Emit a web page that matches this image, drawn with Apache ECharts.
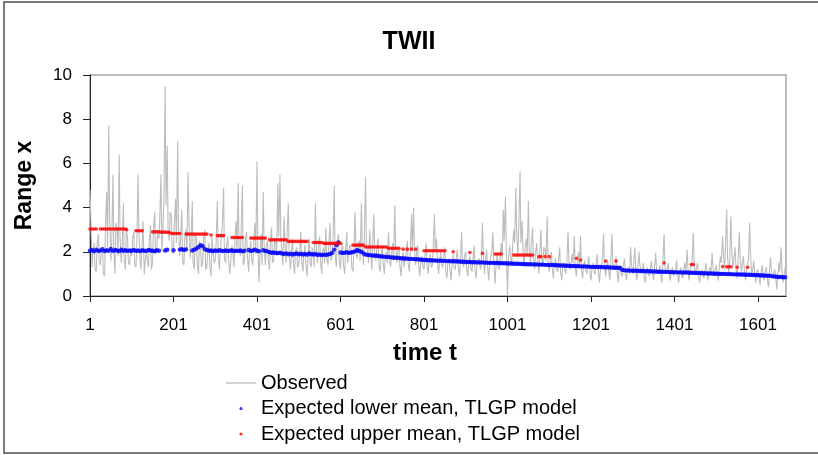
<!DOCTYPE html>
<html><head><meta charset="utf-8">
<script src="https://cdn.jsdelivr.net/npm/echarts@6/dist/echarts.min.js"></script>
<style>html,body{margin:0;padding:0;background:#fff}#c{width:818px;height:455px}</style>
</head><body><div id="c"></div>
<script>
const chartTitle = 'TWII';
const xAxisName = 'time t';
const yAxisName = 'Range x';
const xTickValues = [1, 201, 401, 601, 801, 1001, 1201, 1401, 1601];
const xTickLabels = ['1', '201', '401', '601', '801', '1001', '1201', '1401', '1601'];
const seriesNames = ['Observed', 'Expected lower mean, TLGP model', 'Expected upper mean, TLGP model'];
// observed values read at t = 1, 6, 11, ... (observedA) and t = 3, 8, 13, ... (observedB)
// lower mean read at t = 1, 6, 11, ...
const startA = 1, startB = 3, sampleStep = 5;
const observedA = [
4.8,1.3,2.4,1.1,2.8,1.4,2.2,0.9,4.7,7.7,1.6,5.5,1.0,3.0,6.4,1.5,4.2,1.2,2.6,1.4,
1.8,2.9,1.3,5.5,1.6,2.4,1.0,2.0,1.3,3.2,1.5,3.8,2.2,2.6,5.5,3.2,9.5,6.8,2.5,3.6,
1.9,4.4,7.0,1.8,3.9,1.4,3.0,5.6,1.7,4.3,1.2,2.6,1.0,2.2,1.5,3.0,1.3,2.4,0.9,2.0,
1.6,4.3,1.2,2.8,4.9,1.5,2.7,1.0,2.3,1.3,3.4,5.1,1.8,5.0,1.6,2.9,1.1,2.5,1.4,3.3,
6.1,0.6,2.8,4.7,1.4,2.5,1.2,3.1,1.6,2.4,5.1,5.5,2.0,3.6,1.5,4.2,1.2,2.6,1.0,2.2,
1.4,2.9,1.1,2.3,0.9,2.6,1.3,2.0,4.2,1.5,2.7,1.0,2.2,3.1,1.4,3.3,1.8,5.0,1.3,2.8,
1.2,2.4,1.0,2.9,1.5,2.2,1.1,3.8,1.7,2.5,4.2,1.4,5.4,2.0,3.0,1.2,3.7,1.6,2.6,1.1,
2.3,1.0,2.0,2.9,1.3,2.4,4.1,1.5,2.2,0.9,2.0,1.3,2.5,1.1,3.7,4.0,1.4,2.3,0.9,1.8,
1.2,2.4,1.0,1.9,1.4,3.7,2.6,1.0,2.0,1.3,2.2,0.8,1.7,0.7,1.9,1.2,2.1,0.9,2.9,1.3,
2.0,0.9,1.8,1.1,2.3,0.8,1.6,1.2,3.3,1.0,2.1,0.7,1.8,2.9,0.55,1.9,1.2,2.4,3.9,4.5,
0.05,2.3,1.4,3.0,4.9,1.8,5.65,3.4,1.3,2.6,4.3,1.5,3.1,1.2,2.4,1.0,3.0,1.4,2.1,3.6,
1.1,2.0,0.8,1.7,1.1,2.2,0.7,1.5,1.0,2.9,1.2,1.9,2.7,0.9,2.0,2.7,0.8,1.6,1.0,1.8,
0.7,1.5,1.0,1.9,0.6,1.4,2.8,0.9,1.6,0.7,2.8,1.2,1.8,0.6,1.4,0.9,1.7,0.7,1.3,2.2,
1.0,2.2,0.7,2.0,1.1,1.5,0.6,1.3,0.9,1.6,0.7,1.95,1.0,1.4,0.6,2.8,1.0,1.5,0.7,1.3,
0.9,1.6,0.6,1.3,0.8,1.5,2.1,0.7,1.4,2.85,1.0,1.5,0.6,1.2,0.8,1.5,0.7,1.3,1.95,0.9,
1.4,0.7,1.8,2.7,1.2,3.9,1.0,3.6,1.3,2.2,0.8,2.9,1.1,1.8,0.7,1.5,3.3,0.9,1.6,0.6,
1.2,0.5,1.4,0.7,1.3,0.4,1.75,0.8,1.2,0.3,1.5,2.2,0.6,1.3
];
const observedB = [
3.5,2.0,1.2,2.3,1.6,2.0,1.0,3.1,2.2,3.6,2.4,2.1,3.3,1.8,2.6,2.2,1.6,3.0,1.5,2.1,
2.6,1.4,2.2,3.0,1.2,3.4,1.5,1.6,2.5,1.2,3.0,1.9,2.8,3.4,2.0,4.3,4.1,3.0,3.8,2.0,
3.2,2.4,3.0,2.6,1.5,2.6,2.0,3.4,2.4,1.5,2.8,1.4,2.5,1.3,2.6,1.2,2.0,1.3,2.7,1.5,
2.4,1.8,2.0,3.2,1.7,2.2,1.6,1.5,1.9,2.6,2.0,2.2,2.9,1.4,2.5,1.8,2.0,1.7,2.3,1.9,
2.2,1.9,1.4,2.3,2.2,1.6,2.4,1.5,2.6,1.8,2.7,2.6,1.4,2.3,2.8,1.9,1.8,1.5,2.0,1.3,
2.0,1.6,1.9,1.4,1.8,1.5,2.2,1.3,2.1,2.3,1.6,2.0,1.5,1.7,2.4,1.6,2.5,1.9,2.4,1.6,
2.0,1.4,2.0,1.5,2.3,1.3,2.1,1.9,2.4,1.6,2.2,2.6,2.3,1.5,2.1,2.4,1.8,2.2,1.4,1.8,
1.5,1.7,1.5,1.8,1.9,1.6,2.3,2.0,1.4,1.6,1.3,1.9,1.5,1.9,2.0,2.1,1.9,1.4,1.5,1.4,
1.8,1.4,1.6,1.3,2.2,2.0,1.6,1.5,1.4,1.8,1.1,1.5,1.2,1.4,1.3,1.7,1.3,1.6,1.5,1.8,
1.2,1.5,1.3,1.6,1.2,1.4,1.7,1.5,1.9,1.6,1.4,1.3,1.9,1.6,1.2,1.4,1.7,1.6,2.5,2.1,
1.6,1.9,2.2,2.4,2.8,3.2,2.4,2.0,2.2,1.8,2.1,2.3,1.8,1.9,1.6,1.9,1.7,2.2,1.6,1.5,
1.5,1.3,1.4,1.2,1.6,1.1,1.3,1.2,1.5,1.6,1.4,1.5,1.3,1.4,1.3,1.2,1.4,1.2,1.4,1.1,
1.2,1.1,1.4,1.2,1.1,1.6,1.5,1.3,1.2,1.4,1.5,1.4,1.2,1.1,1.0,1.3,1.1,1.2,1.0,1.4,
1.4,1.2,1.3,1.4,1.0,0.9,1.1,1.0,1.2,1.1,1.3,1.2,1.1,0.9,1.5,1.3,1.2,1.0,1.1,0.9,
1.1,1.0,1.0,0.9,1.2,1.1,1.3,1.1,1.6,1.5,1.2,1.0,0.9,1.1,1.0,1.2,1.1,1.0,1.3,1.2,
1.0,1.3,1.5,1.9,2.2,1.8,1.6,2.0,1.7,1.3,1.5,1.8,1.4,1.2,1.1,1.6,1.9,1.2,1.0,1.1,
0.9,1.0,0.9,1.1,0.8,1.0,1.2,1.0,0.9,0.8,1.1,1.3,0.9
];
const lowerMean = [
2.05,2.08,2.02,2.10,2.04,2.06,2.12,2.03,2.07,2.05,2.13,2.04,2.08,2.06,2.03,2.09,2.05,2.07,2.04,2.06,
2.05,2.08,2.04,2.06,2.03,2.07,2.05,2.04,2.08,2.06,2.05,2.03,2.07,2.05,null,null,2.06,2.09,null,null,
2.07,null,null,2.10,2.12,2.08,2.11,null,null,2.06,2.10,2.15,2.22,2.30,2.25,2.12,2.08,2.05,2.06,2.03,
2.06,2.04,2.07,2.05,2.03,2.06,2.04,2.05,2.07,2.03,2.05,2.04,2.06,2.02,2.05,null,2.08,2.04,2.06,2.10,
2.05,2.03,null,2.07,2.04,2.02,1.98,1.96,1.97,1.95,1.94,1.96,1.92,1.90,1.93,1.89,1.91,1.88,1.90,1.92,
1.89,1.91,1.88,1.90,1.87,1.92,1.89,1.88,1.90,1.86,1.88,1.85,1.87,1.86,1.88,1.90,1.95,2.10,2.30,2.42,
1.97,1.95,1.96,1.98,1.95,1.97,1.99,2.02,2.08,2.03,2.00,1.92,1.88,1.86,1.85,1.84,1.82,1.83,1.81,1.80,
1.79,1.78,1.76,1.77,1.75,1.74,1.73,1.73,1.72,1.71,1.70,1.70,1.69,1.68,1.68,1.67,1.66,1.66,1.65,1.64,
1.63,1.63,1.62,1.62,1.61,1.61,1.60,1.60,1.60,1.59,1.59,1.58,1.58,1.57,1.57,1.57,1.56,1.56,1.55,1.55,
1.54,1.54,1.54,1.53,1.53,1.53,1.52,1.52,1.52,1.51,1.51,1.50,1.50,1.50,1.49,1.49,1.49,1.48,1.48,1.48,
1.47,1.47,1.47,1.46,1.46,1.46,1.45,1.45,1.45,1.44,1.44,1.44,1.43,1.43,1.43,1.42,1.42,1.42,1.41,1.41,
1.40,1.40,1.40,1.39,1.39,1.38,1.38,1.38,1.37,1.37,1.36,1.36,1.36,1.35,1.35,1.34,1.34,1.34,1.33,1.33,
1.32,1.32,1.32,1.31,1.31,1.31,1.30,1.30,1.30,1.29,1.29,1.28,1.28,1.28,1.27,1.18,1.16,1.16,1.15,1.15,
1.14,1.14,1.14,1.13,1.13,1.13,1.12,1.12,1.12,1.11,1.11,1.11,1.10,1.10,1.10,1.09,1.09,1.09,1.08,1.08,
1.08,1.07,1.07,1.07,1.06,1.06,1.06,1.05,1.05,1.05,1.04,1.04,1.04,1.03,1.03,1.03,1.02,1.02,1.02,1.01,
1.01,1.01,1.00,1.00,1.00,0.99,0.99,0.99,0.98,0.98,0.98,0.97,0.97,0.97,0.96,0.96,0.96,0.95,0.95,0.95,
0.94,0.94,0.93,0.93,0.92,0.92,0.91,0.89,0.88,0.87,0.86,0.86,0.85,0.85
];
const upperTimes = [
1,6,11,16,26,31,36,41,46,51,56,61,66,71,76,81,86,89,
111,116,121,126,
151,156,161,166,171,176,181,186,191,196,201,206,211,216,
231,236,241,246,251,256,261,266,271,276,281,291,306,311,316,321,
341,346,351,356,361,366,386,391,396,401,406,411,416,421,
431,436,441,446,451,456,461,466,471,476,481,486,491,496,501,506,511,516,521,
536,541,546,551,556,561,566,571,576,581,586,591,596,601,
631,636,641,646,651,656,661,666,671,676,681,686,691,696,701,706,711,
716,721,726,731,736,741,751,761,771,781,
801,806,811,816,821,826,831,836,841,846,851,871,911,941,971,976,981,986,
1016,1021,1026,1031,1036,1041,1046,1051,1056,1061,1076,1081,1091,1101,
1166,1176,1236,1261,1376,1441,1446,1516,1526,1531,1536,1551,1576
];
const upperMean = [
3.03,3.03,3.03,3.03,3.03,3.03,3.03,3.03,3.03,3.03,3.03,3.03,3.03,3.03,3.03,3.03,3.03,3.00,
2.95,2.95,2.95,2.95,
2.90,2.90,2.90,2.90,2.89,2.89,2.89,2.88,2.88,2.83,2.83,2.83,2.83,2.83,
2.80,2.80,2.80,2.80,2.80,2.80,2.80,2.80,2.80,2.80,2.80,2.76,2.73,2.73,2.73,2.73,
2.65,2.65,2.65,2.65,2.65,2.65,2.62,2.62,2.62,2.62,2.62,2.62,2.62,2.62,
2.54,2.54,2.54,2.54,2.54,2.54,2.54,2.54,2.54,2.47,2.47,2.47,2.47,2.47,2.47,2.47,2.47,2.47,2.47,
2.42,2.42,2.42,2.42,2.42,2.38,2.38,2.38,2.38,2.38,2.38,2.38,2.38,2.38,
2.30,2.30,2.30,2.30,2.30,2.30,2.22,2.22,2.22,2.22,2.22,2.22,2.22,2.22,2.22,2.22,2.22,
2.16,2.16,2.16,2.16,2.16,2.16,2.12,2.12,2.12,2.12,
2.05,2.05,2.05,2.05,2.05,2.05,2.05,2.05,2.05,2.05,2.05,2.00,1.97,1.93,1.90,1.90,1.90,1.90,
1.85,1.85,1.85,1.85,1.85,1.85,1.85,1.85,1.85,1.85,1.78,1.78,1.78,1.78,
1.71,1.63,1.58,1.58,1.49,1.42,1.42,1.33,1.32,1.32,1.32,1.30,1.30
];

const obsData = [], lowData = [], upData = [];
observedA.forEach((v, i) => obsData.push([startA + i * sampleStep, v]));
observedB.forEach((v, i) => obsData.push([startB + i * sampleStep, v]));
obsData.sort((a, b) => a[0] - b[0]);
lowerMean.forEach((v, i) => { if (v !== null) lowData.push([startA + i * sampleStep, v]); });
upperTimes.forEach((t, i) => upData.push([t, upperMean[i]]));

const dotIcon = 'path://M0,0 M14,14 M7,5.4 A1.6,1.6 0 1 1 7,8.6 A1.6,1.6 0 1 1 7,5.4 Z';
const lineIcon = 'path://M0,6.3 L30,6.3 L30,7.7 L0,7.7 Z';
const FONT = 'Liberation Sans, Arial, sans-serif';

const chart = echarts.init(document.getElementById('c'), null, {renderer: 'canvas'});
chart.setOption({
  animation: false,
  backgroundColor: '#ffffff',
  title: {
    text: chartTitle, left: 'center', top: 25,
    textStyle: {fontFamily: FONT, fontSize: 25, fontWeight: 'bold', color: '#000'}
  },
  graphic: [{
    type: 'rect', silent: true, z: 100,
    shape: {x: 4, y: 2, width: 840, height: 451},
    style: {fill: 'none', stroke: '#7a7a7a', lineWidth: 2}
  }],
  grid: {
    left: 90, right: 32, top: 75, bottom: 159,
    show: true, borderColor: '#a8a8a8', borderWidth: 1.5, backgroundColor: 'transparent'
  },
  legend: {
    orient: 'vertical', left: 226, top: 373, itemGap: 5.5, padding: 0,
    itemWidth: 30, itemHeight: 14,
    textStyle: {fontFamily: FONT, fontSize: 20, color: '#000'},
    data: [
      {name: seriesNames[0], icon: lineIcon, itemStyle: {color: '#c0c0c0'}},
      {name: seriesNames[1], icon: dotIcon},
      {name: seriesNames[2], icon: dotIcon}
    ]
  },
  xAxis: {
    type: 'value', min: 1, max: 1668,
    name: xAxisName, nameLocation: 'middle', nameGap: 45,
    nameTextStyle: {fontFamily: FONT, fontSize: 24, fontWeight: 'bold', color: '#000', padding: [0, 26, 0, 0]},
    axisLine: {show: true, onZero: false, lineStyle: {color: '#222', width: 1}},
    axisTick: {show: true, length: 6, customValues: xTickValues, lineStyle: {color: '#222'}},
    axisLabel: {
      customValues: xTickValues, margin: 21,
      formatter: (v) => xTickLabels[xTickValues.indexOf(v)] || '',
      fontFamily: FONT, fontSize: 17, color: '#000'
    },
    splitLine: {show: false}
  },
  yAxis: {
    type: 'value', min: 0, max: 10, interval: 2,
    name: yAxisName, nameLocation: 'middle', nameGap: 54, nameRotate: 90,
    nameTextStyle: {fontFamily: FONT, fontSize: 23, fontWeight: 'bold', color: '#000'},
    axisLine: {show: true, lineStyle: {color: '#222', width: 1}},
    axisTick: {show: true, length: 7, lineStyle: {color: '#222'}},
    axisLabel: {margin: 18, fontFamily: FONT, fontSize: 17, color: '#000'},
    splitLine: {show: false}
  },
  series: [
    {
      name: seriesNames[0], type: 'line', data: obsData, symbol: 'none', showSymbol: false, z: 1,
      lineStyle: {color: '#bdbdbd', width: 1.1}, itemStyle: {color: '#bdbdbd'}
    },
    {
      name: seriesNames[1], type: 'scatter', data: lowData, symbol: 'circle', symbolSize: 4.4, z: 2,
      itemStyle: {color: '#0000ff'}
    },
    {
      name: seriesNames[2], type: 'scatter', data: upData, symbol: 'circle', symbolSize: 3.6, z: 3,
      itemStyle: {color: '#ff0000'}
    }
  ]
});
</script>
</body></html>
